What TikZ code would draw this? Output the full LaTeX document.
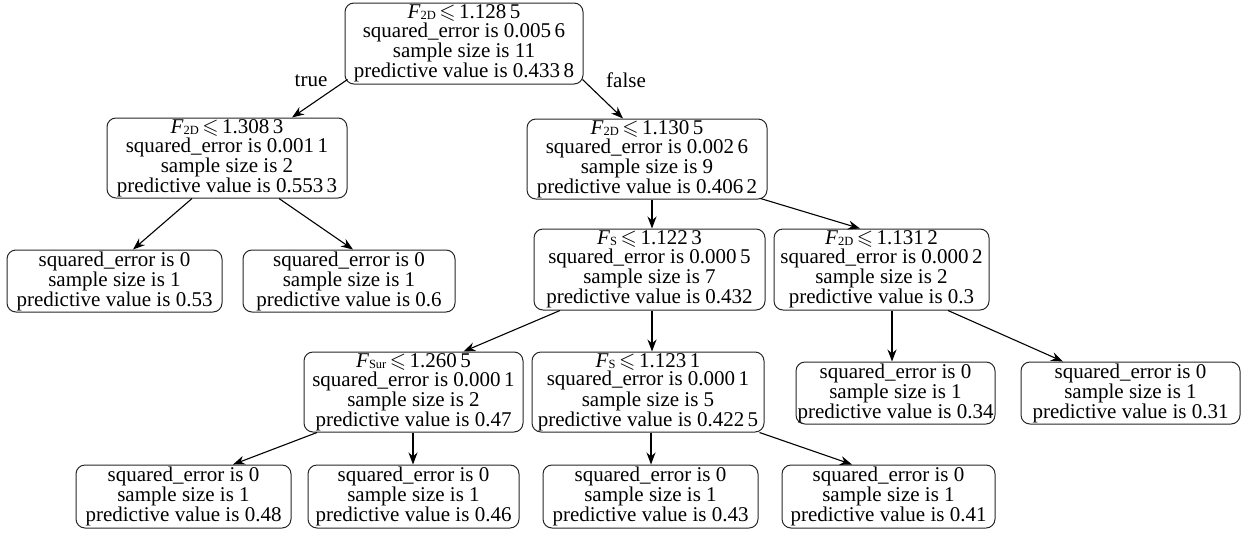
\documentclass[tikz,border=0pt]{standalone}
\usepackage{amssymb}
\usepackage{fontspec}
\setmainfont{Liberation Serif}
\usetikzlibrary{arrows.meta}
\newcommand{\Fv}[1]{\textit{F}\raisebox{-0.1ex}{\fontsize{12.5}{12.5}\selectfont #1}}
\newcommand{\myle}{\,$\leqslant$\,}
\begin{document}
\begin{tikzpicture}[x=1pt,y=-1pt,
  box/.style={draw=black!85, line width=1pt, rounded corners=9pt, align=center, inner sep=0pt,
    font=\fontsize{21}{18.6}\selectfont},
  conn/.style={-{Stealth[length=12pt,width=9pt]}, line width=1.1pt},
  lbl/.style={font=\fontsize{21}{21}\selectfont, inner sep=0pt}]
\useasboundingbox (0,0) rectangle (1246,533);

\node[box, minimum width=238pt, minimum height=81pt] (root) at (464,43.5)
  {\Fv{2D}\myle1.128\,5\\squared\_error is 0.005\,6\\sample size is 11\\predictive value is 0.433\,8};
\node[box, minimum width=240pt, minimum height=80pt] (n1) at (227,158)
  {\Fv{2D}\myle1.308\,3\\squared\_error is 0.001\,1\\sample size is 2\\predictive value is 0.553\,3};
\node[box, minimum width=240pt, minimum height=80pt] (n2) at (647,159)
  {\Fv{2D}\myle1.130\,5\\squared\_error is 0.002\,6\\sample size is 9\\predictive value is 0.406\,2};
\node[box, minimum width=215pt, minimum height=62pt] (l1) at (114.5,281)
  {squared\_error is 0\\sample size is 1\\predictive value is 0.53};
\node[box, minimum width=212pt, minimum height=62pt] (l2) at (349,281)
  {squared\_error is 0\\sample size is 1\\predictive value is 0.6};
\node[box, minimum width=231pt, minimum height=81pt] (n3) at (649.5,269.5)
  {\Fv{S}\myle1.122\,3\\squared\_error is 0.000\,5\\sample size is 7\\predictive value is 0.432};
\node[box, minimum width=215pt, minimum height=81pt] (n4) at (881.5,269.5)
  {\Fv{2D}\myle1.131\,2\\squared\_error is 0.000\,2\\sample size is 2\\predictive value is 0.3};
\node[box, minimum width=219pt, minimum height=80pt] (n5) at (413.5,392)
  {\Fv{Sur}\myle1.260\,5\\squared\_error is 0.000\,1\\sample size is 2\\predictive value is 0.47};
\node[box, minimum width=232pt, minimum height=80pt] (n6) at (648,392)
  {\Fv{S}\myle1.123\,1\\squared\_error is 0.000\,1\\sample size is 5\\predictive value is 0.422\,5};
\node[box, minimum width=199pt, minimum height=62pt] (l3) at (895.5,393)
  {squared\_error is 0\\sample size is 1\\predictive value is 0.34};
\node[box, minimum width=219pt, minimum height=62pt] (l4) at (1130.5,393)
  {squared\_error is 0\\sample size is 1\\predictive value is 0.31};
\node[box, minimum width=215pt, minimum height=63pt] (l5) at (183.5,496.5)
  {squared\_error is 0\\sample size is 1\\predictive value is 0.48};
\node[box, minimum width=211pt, minimum height=63pt] (l6) at (413.5,496.5)
  {squared\_error is 0\\sample size is 1\\predictive value is 0.46};
\node[box, minimum width=215pt, minimum height=63pt] (l7) at (650.5,496.5)
  {squared\_error is 0\\sample size is 1\\predictive value is 0.43};
\node[box, minimum width=213pt, minimum height=63pt] (l8) at (888.5,496.5)
  {squared\_error is 0\\sample size is 1\\predictive value is 0.41};

\node[lbl] (tru) at (311,81) {true};
\node[lbl] (fls) at (626,80) {false};

\draw[conn] ([xshift=3pt,yshift=5pt]root.south west) -- ([xshift=65pt]n1.north);
\draw[conn] ([xshift=-1pt,yshift=5pt]root.south east) -- ([xshift=-24pt]n2.north);
\draw[conn] ([xshift=-35pt]n1.south) -- ([xshift=18.5pt]l1.north);
\draw[conn] ([xshift=52pt]n1.south) -- ([xshift=4pt]l2.north);
\draw[conn] ([xshift=5pt]n2.south) -- ([xshift=2.5pt]n3.north);
\draw[conn] ([xshift=-7pt,yshift=1pt]n2.south east) -- ([xshift=-21.5pt]n4.north);
\draw[conn] ([xshift=-89.5pt]n3.south) -- ([xshift=50pt]n5.north);
\draw[conn] ([xshift=2.5pt]n3.south) -- ([xshift=4pt]n6.north);
\draw[conn] ([xshift=10.5pt]n4.south) -- ([xshift=-3.5pt]l3.north);
\draw[conn] ([xshift=66.5pt]n4.south) -- ([xshift=-67.5pt]l4.north);
\draw[conn] ([xshift=-96.5pt]n5.south) -- ([xshift=49.5pt]l5.north);
\draw[conn] ([xshift=-0.5pt]n5.south) -- ([xshift=-0.5pt]l6.north);
\draw[conn] ([xshift=3pt]n6.south) -- ([xshift=0.5pt]l7.north);
\draw[conn] ([xshift=-5pt]n6.south east) -- ([xshift=-36.5pt]l8.north);
\end{tikzpicture}
\end{document}
